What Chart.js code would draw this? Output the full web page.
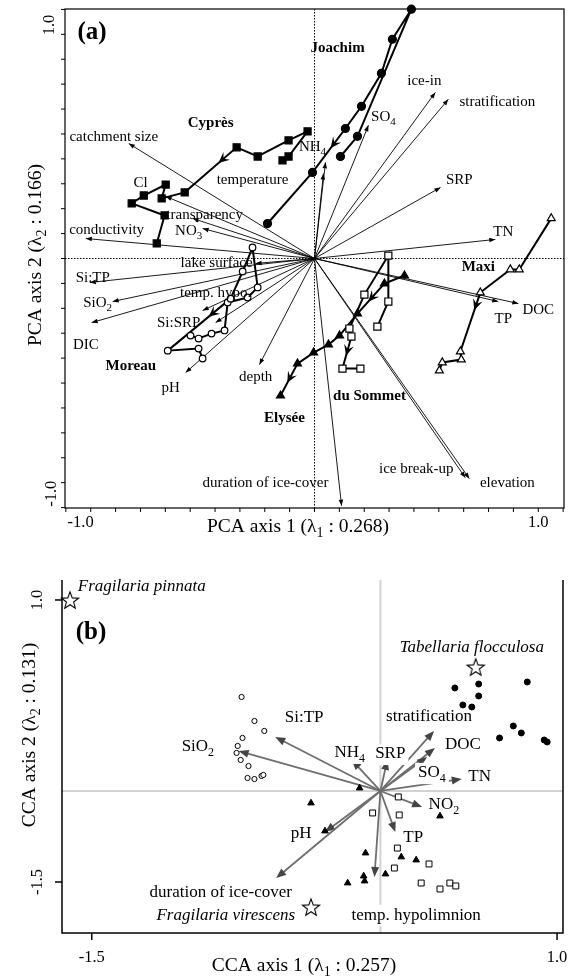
<!DOCTYPE html>
<html><head><meta charset="utf-8">
<script src="https://cdn.jsdelivr.net/npm/chart.js@4/dist/chart.umd.min.js"></script>
<style>
html,body{margin:0;padding:0;background:#fff;}
#wrap{position:relative;width:573px;height:978px;overflow:hidden;}
canvas{position:absolute;left:0;}
</style></head><body>
<div id="wrap">
<canvas id="ca" width="573" height="545" style="top:0"></canvas>
<canvas id="cb" width="573" height="433" style="top:545px"></canvas>
</div>
<script>
// ================= Panel (a): PCA =================
const pcaVarNames = ['catchment size','Cl','transparency','NO_3','conductivity','temperature','lake surface','Si:TP','SiO_2','DIC','temp. hypo.','Si:SRP','pH','depth','duration of ice-cover','ice break-up','elevation','TP','DOC','TN','SRP','stratification','ice-in','SO_4','NH_4'];
const pcaVarX = [-0.830,-0.665,-0.545,-0.500,-1.022,0.040,-0.263,-1.004,-0.902,-0.996,-0.500,-0.442,-0.576,-0.246,0.121,0.674,0.692,0.821,0.911,0.808,0.563,0.598,0.540,0.241,0.049];
const pcaVarY = [0.513,0.277,0.179,0.134,0.089,0.379,-0.022,-0.107,-0.192,-0.286,-0.232,-0.286,-0.509,-0.473,-1.103,-0.978,-0.982,-0.192,-0.201,0.085,0.317,0.710,0.741,0.594,0.429];

const cypresX = [-0.143,-0.116,-0.031,-0.116,-0.254,-0.348,-0.580,-0.683,-0.665,-0.763,-0.817,-0.670,-0.705];
const cypresY = [0.438,0.455,0.567,0.527,0.455,0.496,0.295,0.268,0.330,0.281,0.246,0.192,0.067];
const joachimX = [0.116,0.192,0.433,0.348,0.299,0.210,0.138,-0.009,-0.210];
const joachimY = [0.455,0.545,1.112,0.978,0.826,0.679,0.580,0.384,0.156];
const moreauX = [-0.554,-0.518,-0.460,-0.402,-0.388,-0.299,-0.254,-0.277,-0.321,-0.375,-0.656,-0.518,-0.500];
const moreauY = [-0.344,-0.357,-0.335,-0.321,-0.196,-0.174,-0.129,0.049,-0.058,-0.179,-0.411,-0.402,-0.446];
const maxiX = [1.058,0.915,0.875,0.741,0.652,0.656,0.571,0.558];
const maxiY = [0.179,-0.049,-0.049,-0.152,-0.415,-0.451,-0.464,-0.500];
const sommetX = [0.281,0.330,0.330,0.223,0.156,0.165,0.125,0.205];
const sommetY = [-0.304,-0.192,0.013,-0.161,-0.3125,-0.348,-0.491,-0.491];
const elyseeX = [0.402,0.3125,0.192,0.112,0.0625,-0.004,-0.076,-0.152];
const elyseeY = [-0.076,-0.112,-0.246,-0.344,-0.384,-0.420,-0.469,-0.612];
const lakeNames = ['Cyprès','Joachim','Moreau','Maxi','du Sommet','Elysée'];
const pcaTicks = [-10,-9,-8,-7,-6,-5,-4,-3,-2,-1,0,1,2,3,4,5,6,7,8,9,10];   // ninths
const pcaTickLabels = ['-1.0','1.0'];

// ================= Panel (b): CCA =================
const ccaVarNames = ['Si:TP','SiO_2','NH_4','SRP','stratification','DOC','SO_4','TN','NO_2','TP','temp. hypolimnion','pH','duration of ice-cover'];
const ccaVarX = [-0.514,-0.711,-0.103,0.088,0.339,0.344,0.302,0.488,0.275,0.131,0.019,-0.247,-0.509];
const ccaVarY = [-0.215,-0.339,-0.418,-0.418,-0.161,-0.312,-0.392,-0.587,-0.835,-1.057,-1.456,-1.057,-1.465];
const ccaOrigin = [0.051,-0.693];
const speciesNames = ['Fragilaria pinnata','Tabellaria flocculosa','Fragilaria virescens'];
const speciesX = [-1.617,0.563,-0.322];
const speciesY = [1.0,0.406,-1.722];
const siteOpenCircleX = [-0.695,-0.626,-0.573,-0.690,-0.716,-0.722,-0.700,-0.658,-0.663,-0.626,-0.588,-0.578];
const siteOpenCircleY = [0.140,-0.073,-0.161,-0.223,-0.294,-0.356,-0.418,-0.472,-0.578,-0.587,-0.560,-0.551];
const siteFilledCircleX = [0.451,0.579,0.579,0.494,0.542,0.840,0.765,0.808,0.691,0.931,0.947];
const siteFilledCircleY = [0.220,0.255,0.149,0.069,0.051,0.273,-0.117,-0.179,-0.223,-0.241,-0.259];
const siteTriangleX = [-0.061,-0.322,-0.247,-0.029,0.163,0.243,0.371,0.078,-0.039,-0.034,-0.125];
const siteTriangleY = [-0.667,-0.800,-1.048,-1.243,-1.278,-1.305,-0.915,-1.429,-1.447,-1.491,-1.509];
const siteSquareX = [0.147,0.009,0.152,0.142,0.312,0.126,0.270,0.371,0.424,0.456];
const siteSquareY = [-0.746,-0.888,-0.906,-1.199,-1.340,-1.376,-1.509,-1.562,-1.509,-1.535];
const ccaTickX = [-1.5,1.0], ccaTickY = [1.0,-1.5];
const ccaTickLabelsX = ['-1.5','1.0'], ccaTickLabelsY = ['1.0','-1.5'];

// ================= layout (label anchors, data units) =================
const pcaLabelAt = [[-0.897,0.540],[-0.777,0.335],[-0.491,0.196],[-0.5625,0.121],[-0.929,0.125],[-0.277,0.348],[-0.4375,-0.022],[-0.991,-0.089],[-0.969,-0.201],[-1.022,-0.388],[-0.442,-0.156],[-0.607,-0.290],[-0.643,-0.576],[-0.263,-0.531],[-0.219,-1.0],[0.455,-0.9375],[0.862,-1.0],[0.844,-0.268],[1.0,-0.228],[0.844,0.116],[0.647,0.348],[0.817,0.696],[0.491,0.790],[0.308,0.629],[-0.009,0.496]];
const lakeLabelAt = [[-0.464,0.603],[0.103,0.9375],[-0.821,-0.482],[0.732,-0.040],[0.246,-0.616],[-0.134,-0.714]];
const ccaLabelAt = [[-0.359,-0.046],[-0.930,-0.303],[-0.114,-0.356],[0.104,-0.365],[0.312,-0.037],[0.494,-0.277],[0.328,-0.534],[0.584,-0.569],[0.392,-0.817],[0.227,-1.110],[0.243,-1.793],[-0.375,-1.066],[-0.807,-1.597]];
const speciesLabelAt = [[-1.575,1.115,'left'],[0.542,0.574,'center'],[-0.780,-1.793,'center']];

const SERIF = '"Liberation Serif","Times New Roman",serif';

function richParts(s){const p=[];let b='';for(let i=0;i<s.length;i++){if(s[i]==='_'&&i+1<s.length){if(b)p.push({t:b,sub:false});b='';p.push({t:s[i+1],sub:true});i++;}else b+=s[i];}if(b)p.push({t:b,sub:false});return p;}
function drawRich(ctx,s,x,y,size,o){o=o||{};const parts=richParts(s);const st=(o.italic?'italic ':'')+(o.bold?'bold ':'');
  const f=sub=>st+(sub?Math.round(size*0.72):size)+'px '+SERIF;let w=0;
  parts.forEach(p=>{ctx.font=f(p.sub);p.w=ctx.measureText(p.t).width;w+=p.w;});
  let sx=o.align==='left'?x:o.align==='right'?x-w:x-w/2;
  if(o.bg){ctx.fillStyle=o.bg;ctx.fillRect(sx-3,y-size*0.6,w+6,size*1.25);}
  ctx.fillStyle=o.color||'#000';ctx.textBaseline='middle';ctx.textAlign='left';
  parts.forEach(p=>{ctx.font=f(p.sub);ctx.fillText(p.t,sx,p.sub?y+size*0.32:y);sx+=p.w;});}
function drawRot(ctx,s,x,y,size,o){ctx.save();ctx.translate(x,y);ctx.rotate(-Math.PI/2);drawRich(ctx,s,0,0,size,o);ctx.restore();}
function seg(ctx,a,b,c,d){ctx.beginPath();ctx.moveTo(a,b);ctx.lineTo(c,d);ctx.stroke();}
function head(ctx,x0,y0,x1,y1,L,h,col,notch){const a=Math.atan2(y1-y0,x1-x0);ctx.save();ctx.translate(x1,y1);ctx.rotate(a);
  ctx.beginPath();ctx.moveTo(0,0);ctx.lineTo(-L,h);ctx.lineTo(-L*(notch||1),0);ctx.lineTo(-L,-h);ctx.closePath();ctx.fillStyle=col;ctx.fill();ctx.restore();}

function lakeSet(xs,ys,style,filled,r,arrows){return {data:xs.map((v,i)=>({x:v,y:ys[i]})),showLine:true,borderColor:'#000',borderWidth:2,
  pointStyle:style,pointRadius:r,pointBackgroundColor:filled?'#000':'#fff',pointBorderColor:'#000',pointBorderWidth:1.2,clip:false,tension:0,arrowAt:arrows};}

const LBL_A=15, LBL_B=17, TITLE=19.5, TICK=16.5;

const pcaDecor={id:'pcaDecor',
 beforeDatasetsDraw(chart){const {ctx,chartArea:a,scales:{x,y}}=chart;ctx.save();
  const x0=x.getPixelForValue(0),y0=y.getPixelForValue(0);
  ctx.strokeStyle='#000';ctx.lineWidth=1;ctx.setLineDash([1.5,1.5]);seg(ctx,x0,a.top,x0,a.bottom);seg(ctx,a.left,y0,a.right,y0);ctx.setLineDash([]);
  pcaVarX.forEach((vx,i)=>{const tx=x.getPixelForValue(vx),ty=y.getPixelForValue(pcaVarY[i]);ctx.lineWidth=0.9;ctx.strokeStyle='#000';seg(ctx,x0,y0,tx,ty);head(ctx,x0,y0,tx,ty,6,2.3,'#000');});
  ctx.restore();},
 afterDatasetsDraw(chart){const {ctx,chartArea:a,scales:{x,y}}=chart;ctx.save();
  chart.data.datasets.forEach(ds=>{(ds.arrowAt||[]).forEach(([i,f])=>{const p=ds.data[i],q=ds.data[i+1];
    const px=x.getPixelForValue(p.x),py=y.getPixelForValue(p.y),qx=x.getPixelForValue(q.x),qy=y.getPixelForValue(q.y);
    const mx=px+(qx-px)*f,my=py+(qy-py)*f;head(ctx,px,py,mx,my,11,5,'#000',0.6);});});
  pcaVarNames.forEach((n,i)=>drawRich(ctx,n,x.getPixelForValue(pcaLabelAt[i][0]),y.getPixelForValue(pcaLabelAt[i][1]),LBL_A));
  lakeNames.forEach((n,i)=>drawRich(ctx,n,x.getPixelForValue(lakeLabelAt[i][0]),y.getPixelForValue(lakeLabelAt[i][1]),LBL_A,{bold:true}));
  ctx.strokeStyle='#000';ctx.lineWidth=1.2;ctx.strokeRect(a.left,a.top,a.right-a.left,a.bottom-a.top);
  ctx.lineWidth=1;
  pcaTicks.forEach(k=>{const px=x.getPixelForValue(k/9);seg(ctx,px,a.bottom,px,a.bottom+4);const py=y.getPixelForValue(k/9);seg(ctx,a.left,py,a.left-4,py);});
  const tm=x.getPixelForValue(-1),tp=x.getPixelForValue(1);
  drawRich(ctx,pcaTickLabels[0],tm+3,523,TICK,{align:'right'});drawRich(ctx,pcaTickLabels[1],tp,523,TICK);
  ctx.save();ctx.translate(50,y.getPixelForValue(1)+1);ctx.rotate(-Math.PI/2);drawRich(ctx,pcaTickLabels[1],0,0,TICK,{align:'left'});ctx.restore();
  ctx.save();ctx.translate(52,y.getPixelForValue(-1)-2);ctx.rotate(-Math.PI/2);drawRich(ctx,pcaTickLabels[0],0,0,TICK,{align:'right'});ctx.restore();
  drawRich(ctx,'PCA axis 1 (λ_1 : 0.268)',298,527,TITLE);
  drawRot(ctx,'PCA axis 2 (λ_2 : 0.166)',36,255,TITLE);
  drawRich(ctx,'(a)',92,33,25,{bold:true});
  ctx.restore();}};

new Chart(document.getElementById('ca'),{type:'scatter',
 data:{datasets:[
  lakeSet(cypresX,cypresY,'rect',true,5,[[5,0.35]]),
  lakeSet(joachimX,joachimY,'circle',true,4,[[6,0.45]]),
  lakeSet(moreauX,moreauY,'circle',false,3.3,[[9,0.35]]),
  lakeSet(maxiX,maxiY,'triangle',false,4.6,[[3,0.3]]),
  lakeSet(sommetX,sommetY,'rect',false,5,[[5,0.6]]),
  lakeSet(elyseeX,elyseeY,'triangle',true,4.6,[[1,0.6],[6,0.6]])]},
 options:{responsive:false,animation:false,events:[],
  layout:{padding:{left:65,top:9,right:9,bottom:37}},
  plugins:{legend:{display:false},tooltip:{enabled:false}},
  scales:{x:{type:'linear',min:-1.115,max:1.115,display:false},y:{type:'linear',min:-1.113,max:1.113,display:false}}},
 plugins:[pcaDecor]});

// ---------- panel b ----------
function makeStar(R){const c=document.createElement('canvas');const s=Math.ceil(R*2+4);c.width=s;c.height=s;const g=c.getContext('2d');
  g.beginPath();for(let k=0;k<10;k++){const r=k%2?R*0.42:R;const an=-Math.PI/2+k*Math.PI/5;const X=s/2+r*Math.cos(an),Y=s/2+r*Math.sin(an)+R*0.1;k?g.lineTo(X,Y):g.moveTo(X,Y);}
  g.closePath();g.fillStyle='#fff';g.fill();g.lineWidth=1.1;g.strokeStyle='#000';g.stroke();return c;}
function pts(xs,ys){return xs.map((v,i)=>({x:v,y:ys[i]}));}

const ccaDecor={id:'ccaDecor',
 beforeDatasetsDraw(chart){const {ctx,chartArea:a,scales:{x,y}}=chart;ctx.save();
  const x0=x.getPixelForValue(ccaOrigin[0]),y0=y.getPixelForValue(ccaOrigin[1]);
  ctx.strokeStyle='#d2d2d2';ctx.lineWidth=2;seg(ctx,x0,a.top,x0,a.bottom);seg(ctx,a.left,y0,a.right,y0);
  ccaVarX.forEach((vx,i)=>{const tx=x.getPixelForValue(vx),ty=y.getPixelForValue(ccaVarY[i]);ctx.strokeStyle='#6e6e6e';ctx.lineWidth=1.8;
    const ang=Math.atan2(ty-y0,tx-x0);seg(ctx,x0,y0,tx-6*Math.cos(ang),ty-6*Math.sin(ang));head(ctx,x0,y0,tx,ty,10,4,'#444');});
  ccaVarNames.forEach((n,i)=>drawRich(ctx,n,x.getPixelForValue(ccaLabelAt[i][0]),y.getPixelForValue(ccaLabelAt[i][1]),LBL_B,{bg:'#fff'}));
  ctx.restore();},
 afterDatasetsDraw(chart){const {ctx,chartArea:a,scales:{x,y}}=chart;ctx.save();
  speciesNames.forEach((n,i)=>drawRich(ctx,n,x.getPixelForValue(speciesLabelAt[i][0]),y.getPixelForValue(speciesLabelAt[i][1]),LBL_B,{italic:true,align:speciesLabelAt[i][2]}));
  ctx.strokeStyle='#000';ctx.lineWidth=1.5;
  ctx.beginPath();ctx.moveTo(a.left,a.top);ctx.lineTo(a.left,a.bottom);ctx.lineTo(a.right,a.bottom);ctx.lineTo(a.right,a.top);ctx.stroke();
  ccaTickX.forEach((v,i)=>{const px=x.getPixelForValue(v);seg(ctx,px,a.bottom,px,a.bottom+7);drawRich(ctx,ccaTickLabelsX[i],px,413,TICK);});
  ccaTickY.forEach((v,i)=>{const py=y.getPixelForValue(v);seg(ctx,a.left,py,a.left-7,py);drawRot(ctx,ccaTickLabelsY[i],38,py,TICK);});
  drawRich(ctx,'CCA axis 1 (λ_1 : 0.257)',304,421,TITLE);
  drawRot(ctx,'CCA axis 2 (λ_2 : 0.131)',30,190,TITLE);
  drawRich(ctx,'(b)',91,88,25,{bold:true});
  ctx.restore();}};

new Chart(document.getElementById('cb'),{type:'scatter',
 data:{datasets:[
  {data:pts(siteOpenCircleX,siteOpenCircleY),pointStyle:'circle',pointRadius:2.6,pointBackgroundColor:'#fff',pointBorderColor:'#000',pointBorderWidth:1,clip:false},
  {data:pts(siteFilledCircleX,siteFilledCircleY),pointStyle:'circle',pointRadius:3,pointBackgroundColor:'#000',pointBorderColor:'#000',pointBorderWidth:1,clip:false},
  {data:pts(siteTriangleX,siteTriangleY),pointStyle:'triangle',pointRadius:3.8,pointBackgroundColor:'#000',pointBorderColor:'#000',pointBorderWidth:1,clip:false},
  {data:pts(siteSquareX,siteSquareY),pointStyle:'rect',pointRadius:4.2,pointBackgroundColor:'#fff',pointBorderColor:'#000',pointBorderWidth:1,clip:false},
  {data:pts(speciesX,speciesY),pointStyle:makeStar(9),pointRadius:9,clip:false}]},
 options:{responsive:false,animation:false,events:[],
  layout:{padding:{left:62,top:35,right:6,bottom:45}},
  plugins:{legend:{display:false},tooltip:{enabled:false}},
  scales:{x:{type:'linear',min:-1.66,max:1.032,display:false},y:{type:'linear',min:-1.952,max:1.177,display:false}}},
 plugins:[ccaDecor]});
</script>
</body></html>
